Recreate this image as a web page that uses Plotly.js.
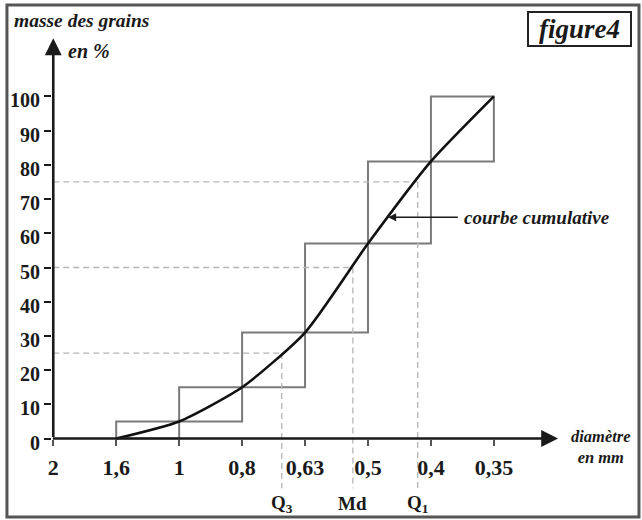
<!DOCTYPE html>
<html>
<head>
<meta charset="utf-8">
<script src="https://cdn.plot.ly/plotly-3.0.1.min.js"></script>
<style>
  html, body { margin: 0; padding: 0; background: #ffffff; }
  #chart { width: 642px; height: 520px; }
</style>
</head>
<body>
<div id="chart"></div>
<script>
// ---- data ----
const sieveLabels = ['2', '1,6', '1', '0,8', '0,63', '0,5', '0,4', '0,35'];   // diameter (mm)
const cumulativePct = [null, 0, 5, 15, 31, 57, 81, 100];                       // cumulative mass %
const quartileNames = ['Q<sub>3</sub>', 'Md', 'Q<sub>1</sub>'];
const quartilePct = [25, 50, 75];
const quartilePos = [3.63, 4.76, 5.79];   // position along the sieve scale (index units)
const yTickVals = [0, 10, 20, 30, 40, 50, 60, 70, 80, 90, 100];

// ---- derived ----
const sieveIdx = sieveLabels.map((_, i) => i);
const curveX = [], curveY = [];
cumulativePct.forEach((v, i) => { if (v !== null) { curveX.push(i); curveY.push(v); } });

const serif = 'Liberation Serif';
const ink = '#1a1a1a';
const yRange = [-20, 120];
const xRange = [-0.02, 8.4];

const shapes = [];
// histogram step boxes
for (let i = 1; i < cumulativePct.length; i++) {
  const prev = cumulativePct[i - 1];
  const cur = cumulativePct[i];
  if (prev === null || cur === null) continue;
  shapes.push({
    type: 'rect', xref: 'x', yref: 'y',
    x0: i - 1, x1: i, y0: prev, y1: cur,
    line: { color: '#7a7a7a', width: 2 }, layer: 'below'
  });
}
// quartile dashed guides
quartilePct.forEach((p, k) => {
  shapes.push({
    type: 'line', xref: 'x', yref: 'y',
    x0: 0, x1: quartilePos[k], y0: p, y1: p,
    line: { color: '#b5b5b5', width: 1.3, dash: '6px,4px' }, layer: 'below'
  });
  shapes.push({
    type: 'line', xref: 'x', yref: 'y',
    x0: quartilePos[k], x1: quartilePos[k], y0: p, y1: -14.5,
    line: { color: '#b5b5b5', width: 1.3, dash: '6px,4px' }, layer: 'below'
  });
});
// outer frame
shapes.push({
  type: 'rect', xref: 'paper', yref: 'paper',
  x0: -0.085, x1: 1.1075, y0: -0.021, y1: 1.048,
  line: { color: '#555555', width: 3 }
});

const annotations = [];
// x axis with arrow
annotations.push({
  x: 8.02, y: 0, ax: -0.03, ay: 0, xref: 'x', yref: 'y', axref: 'x', ayref: 'y',
  text: '', showarrow: true, arrowhead: 2, arrowsize: 1.3, arrowwidth: 2.6, arrowcolor: ink
});
// y axis with arrow
annotations.push({
  x: 0, y: 117, ax: 0, ay: 0, xref: 'x', yref: 'y', axref: 'x', ayref: 'y',
  text: '', showarrow: true, arrowhead: 2, arrowsize: 1.3, arrowwidth: 2.6, arrowcolor: ink
});
// pointer to the cumulative curve
const pSeg = 5, pFrac = 0.32;
const pX = pSeg + pFrac;
const pY = cumulativePct[pSeg] + pFrac * (cumulativePct[pSeg + 1] - cumulativePct[pSeg]);
annotations.push({
  x: pX, y: pY, ax: 6.45, ay: pY, xref: 'x', yref: 'y', axref: 'x', ayref: 'y',
  text: '', showarrow: true, arrowhead: 2, arrowsize: 1, arrowwidth: 1.6, arrowcolor: ink
});
annotations.push({
  x: 6.5, y: pY, xref: 'x', yref: 'y', xanchor: 'left', yanchor: 'middle',
  text: '<b><i>courbe cumulative</i></b>', showarrow: false,
  font: { family: serif, size: 19, color: ink }
});
// quartile labels
quartileNames.forEach((n, k) => {
  annotations.push({
    x: quartilePos[k], y: -19, xref: 'x', yref: 'y', xanchor: 'center', yanchor: 'middle',
    text: '<b>' + n + '</b>', showarrow: false,
    font: { family: serif, size: 19, color: ink }
  });
});
// axis titles
annotations.push({
  x: -0.0755, y: 1.0167, xref: 'paper', yref: 'paper', xanchor: 'left', yanchor: 'middle',
  text: '<b><i>masse des grains</i></b>', showarrow: false,
  font: { family: serif, size: 19.5, color: ink }
});
annotations.push({
  x: 0.0264, y: 0.952, xref: 'paper', yref: 'paper', xanchor: 'left', yanchor: 'middle',
  text: '<b><i>en %</i></b>', showarrow: false,
  font: { family: serif, size: 20, color: ink }
});
annotations.push({
  x: 1.036, y: 0.125, xref: 'paper', yref: 'paper', xanchor: 'center', yanchor: 'middle',
  text: '<b><i>diamètre<br>en mm</i></b>', showarrow: false, align: 'center',
  font: { family: serif, size: 16.5, color: ink }
});
// figure label
annotations.push({
  x: 0.995, y: 0.997, xref: 'paper', yref: 'paper', xanchor: 'center', yanchor: 'middle',
  text: '<b><i>figure4</i></b>', showarrow: false,
  width: 99, height: 30, borderpad: 1, borderwidth: 2, bordercolor: '#222222', bgcolor: '#ffffff',
  font: { family: serif, size: 27, color: ink }
});

const traces = [{
  type: 'scatter', mode: 'lines',
  x: curveX, y: curveY,
  line: { color: '#111111', width: 2.6, shape: 'spline', smoothing: 0.6 },
  hoverinfo: 'skip', showlegend: false
}];

const layout = {
  width: 642, height: 520,
  margin: { l: 52, r: 60, t: 28, b: 13 },
  paper_bgcolor: '#ffffff', plot_bgcolor: '#ffffff',
  showlegend: false,
  font: { family: serif },
  xaxis: {
    range: xRange, tickmode: 'array', tickvals: sieveIdx, ticktext: sieveLabels,
    showgrid: false, zeroline: false, showline: false,
    ticks: 'outside', ticklen: 6, tickwidth: 2, tickcolor: '#555555',
    anchor: 'free', position: -yRange[0] / (yRange[1] - yRange[0]),
    ticklabelstandoff: 3,
    tickfont: { family: serif, size: 22, color: ink, weight: 'bold' }
  },
  yaxis: {
    range: yRange, tickmode: 'array', tickvals: yTickVals,
    showgrid: false, zeroline: false, showline: false,
    ticks: 'outside', ticklen: 7, tickwidth: 2, tickcolor: ink,
    ticklabelshift: 4,
    tickfont: { family: serif, size: 20, color: ink, weight: 'bold' }
  },
  shapes: shapes,
  annotations: annotations
};

Plotly.newPlot('chart', traces, layout, { staticPlot: true, displayModeBar: false });
</script>
</body>
</html>
